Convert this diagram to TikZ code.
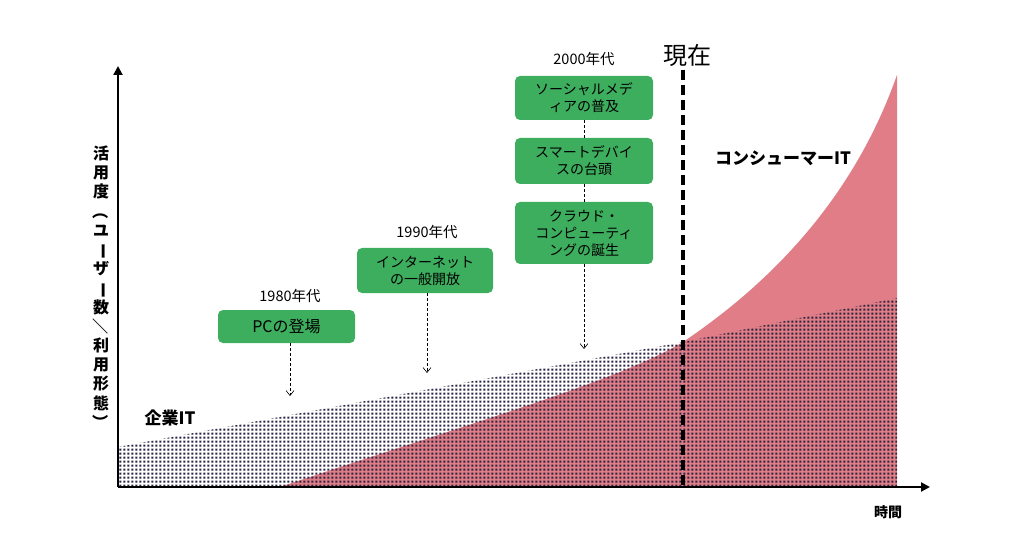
\documentclass[tikz,border=0pt]{standalone}
\usepackage{fontspec}
\setmainfont{Noto Sans CJK JP}
\usetikzlibrary{patterns,arrows.meta}
\definecolor{pinkc}{HTML}{E07D87}
\definecolor{greenc}{HTML}{3DAE5E}
\definecolor{dotc}{HTML}{2A2440}
\pgfdeclarepatternformonly{densedots}{\pgfpointorigin}{\pgfqpoint{3.6pt}{3.6pt}}{\pgfqpoint{3.6pt}{3.6pt}}{%
  \pgfpathrectangle{\pgfqpoint{0.4pt}{0.4pt}}{\pgfqpoint{2.3pt}{2.1pt}}\pgfusepath{fill}}
\tikzset{
  box/.style={draw=none,fill=greenc,rounded corners=5pt,align=center,font=\fontsize{14}{17}\selectfont,inner sep=2pt},
  era/.style={font=\fontsize{14.5}{16}\selectfont},
  darr/.style={densely dashed,-{Straight Barb[length=5pt,width=8pt]},semithick},
  dcon/.style={densely dashed,thin}
}
\newcommand{\rt}[1]{\rotatebox[origin=c]{-90}{#1}}
\begin{document}
\begin{tikzpicture}[x=1pt,y=-1pt]
\useasboundingbox (0,0) rectangle (1030,537);
% consumer IT
\fill[pinkc] (280,487) .. controls (480,420) and (620,380) .. (683,342) .. controls (790,270) and (860,180) .. (897,75) -- (897,487) -- cycle;
% enterprise IT
\fill[pattern=densedots,pattern color=dotc] (118,487) -- (118,447) -- (683,342) -- (897,298) -- (897,487) -- cycle;
% axes
\coordinate (o) at (118,487);
\coordinate (ytop) at (118,66);
\coordinate (xend) at (930,487);
\draw[line width=2pt,-{Triangle[length=9pt,width=9pt]}] (o) -- (ytop);
\draw[line width=2pt,-{Triangle[length=9pt,width=9pt]}] (o) -- (xend);
% now line
\coordinate (n1) at (683,70);
\coordinate (n2) at (683,487);
\draw[line width=3.5pt,dash pattern=on 10pt off 5pt] (n1) -- (n2);
\node[font=\fontsize{24}{26}\selectfont] (now) at (687,55) {現在};
% boxes
\node[era] (e80) at (290,296) {1980年代};
\node[box,minimum width=137pt,minimum height=33pt] (pc) at (286.5,326.5) {\fontsize{16}{18}\selectfont PCの登場};
\coordinate (pca) at (290,396);
\draw[darr] (pc.south -| pca) -- (pca);
\node[era] (e90) at (427,232) {1990年代};
\node[box,minimum width=136pt,minimum height=45pt] (inet) at (425,270.5) {インターネット\\の一般開放};
\coordinate (ia) at (427,373);
\draw[darr] (inet.south -| ia) -- (ia);
\node[era] (e00) at (584,59) {2000年代};
\node[box,minimum width=138pt,minimum height=44pt] (b1) at (584,98) {ソーシャルメデ\\ィアの普及};
\node[box,minimum width=138pt,minimum height=46pt] (b2) at (584,161) {スマートデバイ\\スの台頭};
\node[box,minimum width=138pt,minimum height=62pt] (b3) at (584,233) {クラウド・\\コンピューティ\\ングの誕生};
\coordinate (ba) at (584,349);
\draw[dcon] (b1) -- (b2);
\draw[dcon] (b2) -- (b3);
\draw[darr] (b3) -- (ba);
% labels
\node[font=\bfseries\fontsize{17}{19}\selectfont] (cit) at (783,158) {コンシューマーIT};
\node[font=\bfseries\fontsize{17}{19}\selectfont] (eit) at (170,418) {企業IT};
\node[font=\bfseries\fontsize{14}{16}\selectfont] (time) at (888,512) {時間};
\node[font=\bfseries\fontsize{16}{19.2}\selectfont,align=center] (yl) at (101,288) {活\\用\\度\\\rt{（}\\ユ\\\rt{ー}\\ザ\\\rt{ー}\\数\\\rt{／}\\利\\用\\形\\態\\\rt{）}};
\end{tikzpicture}
\end{document}
